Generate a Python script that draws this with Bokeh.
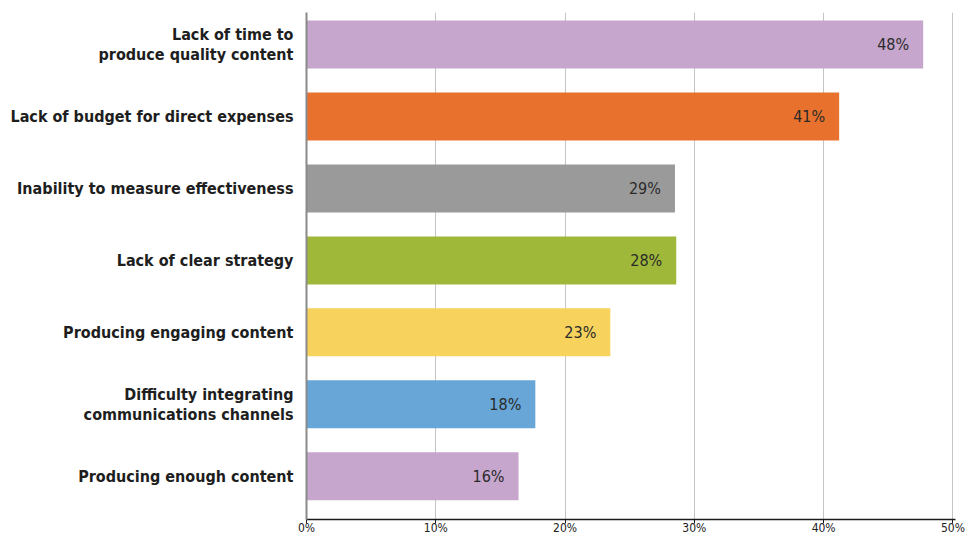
from bokeh.plotting import figure
from bokeh.models import Range1d, FixedTicker, ColumnDataSource
from bokeh.embed import file_html
from bokeh.resources import INLINE
from bokeh.core.properties import value

categories = [
    "Lack of time to\nproduce quality content",
    "Lack of budget for direct expenses",
    "Inability to measure effectiveness",
    "Lack of clear strategy",
    "Producing engaging content",
    "Difficulty integrating\ncommunications channels",
    "Producing enough content",
]
bar_values = [47.7, 41.2, 28.5, 28.6, 23.5, 17.7, 16.4]
value_labels = ["48%", "41%", "29%", "28%", "23%", "18%", "16%"]
colors = ["#c6a6cc", "#e8722d", "#9a9a9a", "#9fb83a", "#f7d25d", "#67a6d6", "#c6a6cc"]
tick_values = [0, 10, 20, 30, 40, 50]
tick_labels = ["0%", "10%", "20%", "30%", "40%", "50%"]

FONT = "'DejaVu Sans Condensed', 'Roboto Condensed', Roboto, sans-serif"

ys = list(range(len(categories)))
src = ColumnDataSource(dict(y=ys, v=bar_values, lab=value_labels, c=colors))

p = figure(width=975, height=537, output_backend="svg", toolbar_location=None,
           x_range=Range1d(0, 50.2), y_range=Range1d(6.6, -0.444),
           min_border_left=306, min_border_right=20, min_border_top=12,
           min_border_bottom=12)
p.outline_line_color = None
p.background_fill_color = "white"
p.border_fill_color = "white"

p.hbar(y="y", left=0, right="v", height=0.667, fill_color="c", line_color=None, source=src)
p.text(x="v", y="y", text="lab", source=src, x_offset=-14, text_align="right",
       text_baseline="middle", text_font=value(FONT),
       text_font_size="16px", text_color="#2a2a2a")

p.ygrid.grid_line_color = None
p.xgrid.ticker = FixedTicker(ticks=tick_values[1:])
p.xgrid.grid_line_color = "#c4c4c4"
p.xgrid.grid_line_width = 1

xa = p.xaxis[0]
xa.ticker = FixedTicker(ticks=tick_values)
xa.major_label_overrides = {t: l for t, l in zip(tick_values, tick_labels)}
xa.axis_line_color = "#1a1a1a"
xa.axis_line_width = 1.5
xa.major_tick_line_color = "#1a1a1a"
xa.major_tick_out = 4
xa.major_tick_in = 0
xa.minor_tick_line_color = None
xa.major_label_standoff = -3
xa.major_label_text_font = FONT
xa.major_label_text_font_size = "12px"
xa.major_label_text_color = "#222222"

ya = p.yaxis[0]
ya.ticker = FixedTicker(ticks=ys)
ya.major_label_overrides = {i: c for i, c in zip(ys, categories)}
ya.axis_line_color = "#8a8a8a"
ya.axis_line_width = 2
ya.major_tick_line_color = None
ya.minor_tick_line_color = None
ya.major_label_standoff = 7
ya.major_label_text_font = FONT
ya.major_label_text_font_style = "bold"
ya.major_label_text_font_size = "16px"
ya.major_label_text_color = "#1e1e1e"
ya.major_label_text_line_height = 1.05

open("out.html", "w").write(file_html(p, INLINE))
